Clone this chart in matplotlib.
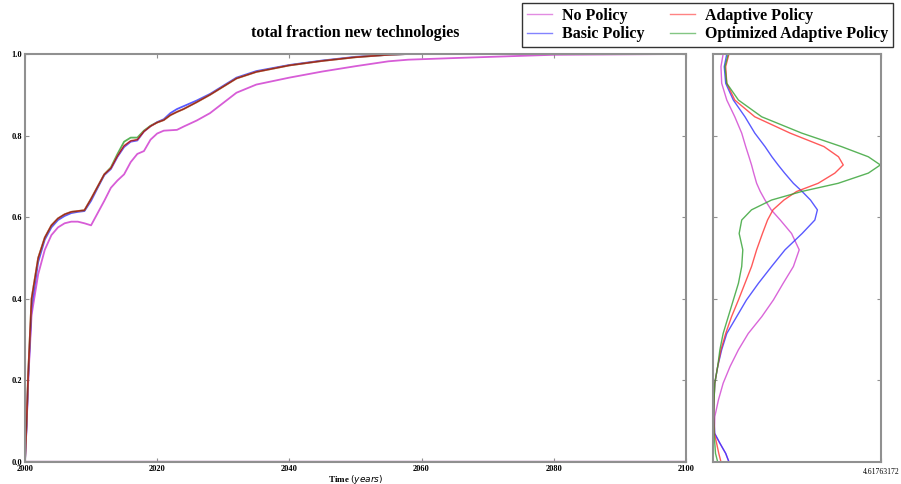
import matplotlib
matplotlib.use("Agg")
import matplotlib.pyplot as plt

# main panel: fraction of new technologies over time
years = [2000, 2000.25, 2000.5, 2001, 2002, 2003, 2004, 2005, 2006, 2007, 2008, 2009,
         2010, 2011, 2012, 2013, 2014, 2015, 2016, 2017, 2018, 2019, 2020, 2021, 2022,
         2023, 2024, 2026, 2028, 2030, 2032, 2035, 2040, 2045, 2050, 2055, 2058, 2065,
         2080, 2100]
no_policy = [0.0, 0.09, 0.2, 0.36, 0.46, 0.52, 0.556, 0.575, 0.585, 0.589, 0.589, 0.585,
             0.58, 0.61, 0.64, 0.672, 0.69, 0.705, 0.735, 0.755, 0.762, 0.79, 0.805, 0.812,
             0.813, 0.814, 0.822, 0.837, 0.855, 0.88, 0.905, 0.925, 0.942, 0.957, 0.97,
             0.982, 0.986, 0.99, 0.998, 1.0]
basic = [0.0, 0.09, 0.21, 0.38, 0.49, 0.545, 0.575, 0.593, 0.603, 0.61, 0.613, 0.615,
         0.64, 0.672, 0.703, 0.718, 0.748, 0.772, 0.785, 0.788, 0.81, 0.823, 0.833, 0.84,
         0.855, 0.865, 0.872, 0.886, 0.902, 0.922, 0.942, 0.958, 0.973, 0.984, 0.993,
         0.998, 1.0, 1.0, 1.0, 1.0]
adaptive = [0.0, 0.1, 0.22, 0.4, 0.5, 0.55, 0.58, 0.597, 0.607, 0.613, 0.615, 0.617,
            0.645, 0.675, 0.705, 0.72, 0.75, 0.775, 0.787, 0.79, 0.81, 0.823, 0.832, 0.838,
            0.85, 0.858, 0.865, 0.882, 0.9, 0.92, 0.94, 0.956, 0.972, 0.983, 0.992,
            0.998, 1.0, 1.0, 1.0, 1.0]
optimized = [0.0, 0.1, 0.22, 0.4, 0.5, 0.55, 0.58, 0.597, 0.607, 0.613, 0.615, 0.617,
             0.645, 0.675, 0.705, 0.722, 0.755, 0.785, 0.795, 0.795, 0.812, 0.824, 0.832,
             0.838, 0.85, 0.858, 0.865, 0.882, 0.9, 0.92, 0.94, 0.956, 0.972, 0.983, 0.992,
             0.998, 1.0, 1.0, 1.0, 1.0]
base_years = [2000, 2100]
baseline = [0.0, 0.0]

# side panel: density of the fraction per policy, on a common fraction grid
frac = [0.0, 0.021, 0.046, 0.07, 0.111, 0.152, 0.193, 0.234, 0.275, 0.315, 0.356, 0.397,
        0.438, 0.479, 0.52, 0.56, 0.593, 0.618, 0.642, 0.663, 0.683, 0.708, 0.728, 0.748,
        0.773, 0.806, 0.846, 0.887, 0.928, 0.969, 1.0]
np_dens = [0.44, 0.35, 0.19, 0.04, 0.05, 0.15, 0.28, 0.47, 0.7, 0.97, 1.34, 1.66, 1.93,
           2.21, 2.37, 2.16, 1.85, 1.6, 1.43, 1.3, 1.2, 1.12, 1.06, 0.99, 0.9, 0.79, 0.6,
           0.38, 0.24, 0.22, 0.28]
basic_dens = [0.44, 0.35, 0.19, 0.05, 0.02, 0.03, 0.05, 0.13, 0.24, 0.38, 0.65, 0.92,
              1.25, 1.61, 1.98, 2.45, 2.8, 2.87, 2.68, 2.45, 2.21, 1.97, 1.79, 1.62, 1.43,
              1.15, 0.88, 0.56, 0.35, 0.31, 0.38]
adapt_dens = [0.22, 0.16, 0.1, 0.04, 0.02, 0.03, 0.05, 0.13, 0.22, 0.35, 0.51, 0.7, 0.88,
              1.06, 1.2, 1.36, 1.5, 1.65, 1.95, 2.3, 2.89, 3.35, 3.58, 3.45, 3.05, 2.12,
              1.15, 0.6, 0.38, 0.35, 0.44]
opt_dens = [0.13, 0.07, 0.05, 0.03, 0.02, 0.03, 0.05, 0.13, 0.19, 0.28, 0.42, 0.56, 0.7,
            0.79, 0.82, 0.72, 0.79, 1.06, 1.61, 2.44, 3.44, 4.27, 4.6, 4.27, 3.53, 2.44,
            1.34, 0.7, 0.38, 0.33, 0.42]
dens_max = 4.61763172

serif = "Liberation Serif"
c_np, c_basic, c_adapt, c_opt = "#d040d0", "#3030ff", "#ff3030", "#30a030"

fig = plt.figure(figsize=(9.01, 4.84), dpi=100)
ax = fig.add_axes([0.0277, 0.0455, 0.7336, 0.843])
ax2 = fig.add_axes([0.7913, 0.0455, 0.1865, 0.843])

ax.plot(base_years, baseline, color="#a060a0", lw=2.5, alpha=0.8)
ax.plot(years, no_policy, color=c_np, lw=1.3, alpha=0.85, label="No Policy")
ax.plot(years, basic, color=c_basic, lw=1.3, alpha=0.8, label="Basic Policy")
ax.plot(years, optimized, color=c_opt, lw=1.3, alpha=0.8, label="Optimized Adaptive Policy")
ax.plot(years, adaptive, color=c_adapt, lw=1.3, alpha=0.8, label="Adaptive Policy")
ax.plot(years, adaptive, color="black", lw=0.5, alpha=0.5)

ax.set_xlim(2000, 2100)
ax.set_ylim(0, 1)
ax.set_xticks([2000, 2020, 2040, 2060, 2080, 2100])
ax.set_yticks([0.0, 0.2, 0.4, 0.6, 0.8, 1.0])
ax.set_title("total fraction new technologies", fontfamily=serif, fontweight="bold",
             fontsize=11.5, pad=12)
ax.set_xlabel(r"Time $(years)$", fontfamily=serif, fontweight="bold", fontsize=6.5,
              labelpad=0)

ax2.plot(np_dens, frac, color=c_np, lw=1.0, alpha=0.8)
ax2.plot(basic_dens, frac, color=c_basic, lw=1.0, alpha=0.8)
ax2.plot(adapt_dens, frac, color=c_adapt, lw=1.0, alpha=0.8)
ax2.plot(opt_dens, frac, color=c_opt, lw=1.0, alpha=0.8)
ax2.set_xlim(0, dens_max)
ax2.set_ylim(0, 1)
ax2.set_yticks([0.2, 0.4, 0.6, 0.8])
ax2.set_yticklabels([])
ax2.set_xticks([dens_max])
ax2.set_xticklabels(["4.61763172"])

for a in (ax, ax2):
    for s in a.spines.values():
        s.set_color("#909090")
        s.set_linewidth(1.5)
    a.tick_params(direction="in", length=3, color="#909090", top=True, right=True,
                  labelsize=6, pad=2)
    for lab in a.get_xticklabels() + a.get_yticklabels():
        lab.set_fontfamily(serif)
        lab.set_fontweight("bold")
ax2.tick_params(axis="x", pad=4, labelsize=5.5)
for lab in ax2.get_xticklabels():
    lab.set_fontweight("normal")

h, l = ax.get_legend_handles_labels()
order = [0, 1, 3, 2]
leg = fig.legend([h[i] for i in order], [l[i] for i in order], ncol=2,
                 loc="upper right", bbox_to_anchor=(0.991, 0.994),
                 prop={"family": serif, "weight": "bold", "size": 11.5},
                 fancybox=False, edgecolor="black", handlelength=1.6,
                 borderpad=0.3, labelspacing=0.15, columnspacing=1.6,
                 handletextpad=0.6, borderaxespad=0.0)
leg.get_frame().set_linewidth(1.0)
for ln in leg.get_lines():
    ln.set_linewidth(1.0)
    ln.set_alpha(0.6)

fig.savefig("out.png", dpi=100)
